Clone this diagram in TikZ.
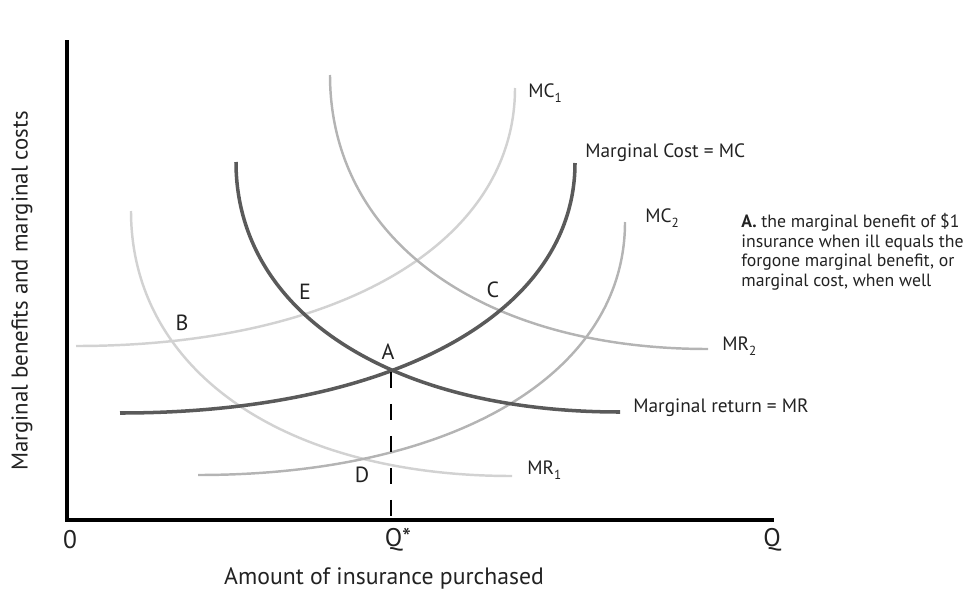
\documentclass[tikz,border=0pt]{standalone}
\usepackage{fontspec}
\setmainfont{PT Sans}
\definecolor{curvedark}{HTML}{5A5A5A}
\definecolor{curvemid}{HTML}{B4B4B4}
\definecolor{curvepale}{HTML}{D2D2D2}
\definecolor{inkgray}{HTML}{222222}
% lowered index digit for curve names
\newcommand{\lowidx}[1]{\raisebox{-0.55ex}{\fontsize{7.5}{8}\selectfont #1}}
\begin{document}
\begin{tikzpicture}[x=0.02cm,y=-0.02cm,
  axis/.style={line width=2.7pt, black, line join=miter},
  maincurve/.style={line width=2pt, draw=curvedark},
  midcurve/.style={line width=1.4pt, draw=curvemid},
  palecurve/.style={line width=1.4pt, draw=curvepale},
  guide/.style={line width=1.7pt, black, dash pattern=on 9.1pt off 9.1pt},
  curvelabel/.style={font=\fontsize{11}{13}\selectfont, inner sep=0, anchor=base west, text=inkgray},
  pointlabel/.style={font=\fontsize{12.5}{14}\selectfont, inner sep=0, text=inkgray},
  ticklabel/.style={font=\fontsize{14.5}{16}\selectfont, inner sep=0, text=inkgray},
  axistitle/.style={font=\fontsize{13.5}{15}\selectfont, inner sep=0, text=inkgray},
  note/.style={font=\fontsize{10.1}{11.2}\selectfont, inner sep=0, anchor=north west, align=left, text=inkgray}]
\useasboundingbox (0,0) rectangle (973,595);

% curve end points
\coordinate (mc1-lo) at (76,346);   \coordinate (mc1-hi) at (515,88);
\coordinate (mc-lo)  at (120,413);  \coordinate (mc-hi)  at (575,163);
\coordinate (mc2-lo) at (198,475);  \coordinate (mc2-hi) at (625,222);
\coordinate (mr1-hi) at (131,211);  \coordinate (mr1-lo) at (512,476);
\coordinate (mr-hi)  at (236,162);  \coordinate (mr-lo)  at (620,412);
\coordinate (mr2-hi) at (330,75);   \coordinate (mr2-lo) at (708,349);

% shifted marginal cost / return curves
\draw[palecurve] (mc1-lo) .. controls (339,346) and (515,243) .. (mc1-hi);
\draw[palecurve] (mr1-hi) .. controls (131,370) and (283,476) .. (mr1-lo);
\draw[midcurve]  (mc2-lo) .. controls (454,475) and (625,374) .. (mc2-hi);
\draw[midcurve]  (mr2-hi) .. controls (330,239) and (481,349) .. (mr2-lo);

% base curves
\draw[maincurve] (mc-lo) .. controls (393,413) and (575,313) .. (mc-hi);
\draw[maincurve] (mr-hi) .. controls (236,312) and (390,412) .. (mr-lo);

% axes
\coordinate (ytop) at (67,40);
\coordinate (origin) at (67,520);
\coordinate (xend) at (774,520);
\draw[axis] (ytop) -- (origin) -- (xend);

% equilibrium guide
\coordinate (eqA) at (391,372);
\coordinate (eqQ) at (391,520);
\draw[guide] (eqA) -- (eqQ);

% axis labels
\node[ticklabel] (t0) at (70,540) {0};
\node[ticklabel] (tq) at (398,540) {Q*};
\node[ticklabel] (tQ) at (772,540) {Q};
\node[axistitle] (xt) at (384,578) {Amount of insurance purchased};
\node[axistitle, font=\fontsize{13}{15}\selectfont, rotate=90] (yt) at (22,291) {Marginal benefits and marginal costs};

% curve labels
\node[curvelabel] (lmc1) at (528,97) {MC\lowidx{1}};
\node[curvelabel] (lmc)  at (585,157) {Marginal Cost = MC};
\node[curvelabel] (lmc2) at (645,222) {MC\lowidx{2}};
\node[curvelabel] (lmr2) at (722,350) {MR\lowidx{2}};
\node[curvelabel] (lmr)  at (633,412) {Marginal return = MR};
\node[curvelabel] (lmr1) at (527,474) {MR\lowidx{1}};

% intersection labels
\node[pointlabel] (pB) at (182,323) {B};
\node[pointlabel] (pE) at (305,292) {E};
\node[pointlabel] (pA) at (388,352) {A};
\node[pointlabel] (pC) at (493,290) {C};
\node[pointlabel] (pD) at (362,475) {D};

% explanatory note
\node[note] (txt) at (741,213) {\textbf{A.} the marginal benefit of \$1\\insurance when ill equals the\\forgone marginal benefit, or\\marginal cost, when well};
\end{tikzpicture}
\end{document}
